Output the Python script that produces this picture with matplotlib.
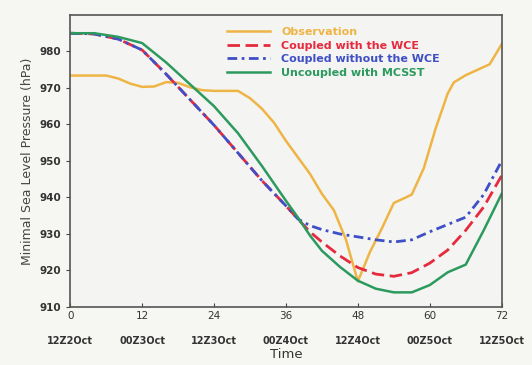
import matplotlib.pyplot as plt

# hours since 12Z 2 Oct
obs_hours = [0, 6, 8, 10, 12, 14, 16, 18, 20, 22, 24, 28, 30, 32, 34, 36, 38, 40, 42, 44, 46, 48,
             50, 52, 54, 56, 57, 59, 61, 63, 64, 66, 68, 70, 72]
obs_p = [973.4, 973.4, 972.6, 971.2, 970.3, 970.4, 971.6, 971.4, 970.2, 969.4, 969.2, 969.2, 967.2,
         964.3, 960.5, 955.5, 951.0, 946.5, 941.0, 936.5, 928.5, 917.0,
         925.0, 931.5, 938.5, 940.0, 940.8, 948.0, 959.0, 968.5, 971.5, 973.5, 975.0, 976.5, 982.0]

model_hours = [0, 4, 8, 12, 16, 20, 24, 28, 32, 36, 38, 40, 42, 45, 48, 51, 54, 57, 60, 63, 66, 69, 72]
wce_p = [985.0, 984.8, 983.4, 980.4, 973.8, 966.8, 959.8, 952.2, 944.6, 937.7, 934.1, 930.6, 927.8,
         924.0, 920.8, 919.0, 918.4, 919.4, 922.0, 925.6, 931.0, 937.4, 946.0]
nowce_p = [985.0, 984.8, 983.4, 980.4, 973.8, 966.8, 959.8, 952.2, 944.6, 937.7, 934.1, 932.3, 931.2,
           930.0, 929.2, 928.4, 927.8, 928.4, 930.6, 932.6, 934.6, 940.8, 950.0]
mcsst_p = [985.0, 985.0, 984.0, 982.3, 977.0, 971.0, 965.0, 957.6, 948.6, 939.1, 934.5, 929.6, 925.4,
           921.0, 917.2, 915.0, 914.0, 914.0, 916.0, 919.5, 921.6, 931.0, 941.0]

tick_hours = [0, 12, 24, 36, 48, 60, 72]
tick_dates = ['12Z2Oct', '00Z3Oct', '12Z3Oct', '00Z4Oct', '12Z4Oct', '00Z5Oct', '12Z5Oct']
y_ticks = [910, 920, 930, 940, 950, 960, 970, 980]

c_obs = '#eeb445'
c_wce = '#e62a3e'
c_nowce = '#3f4fc6'
c_mcsst = '#2c9a5e'

fig = plt.figure(figsize=(5.32, 3.65), dpi=100)
fig.patch.set_facecolor('#f6f6f3')
ax = fig.add_axes([0.132, 0.159, 0.811, 0.8])
ax.set_facecolor('#f4f5f2')

ax.plot(obs_hours, obs_p, color=c_obs, lw=1.8, label='Observation')
ax.plot(model_hours, wce_p, color=c_wce, lw=2.0, dashes=(4.5, 2), label='Coupled with the WCE')
ax.plot(model_hours, nowce_p, color=c_nowce, lw=2.0, dashes=(3.5, 1.6, 1, 1.6), label='Coupled without the WCE')
ax.plot(model_hours, mcsst_p, color=c_mcsst, lw=1.8, label='Uncoupled with MCSST')

ax.set_xlim(0, 72)
ax.set_ylim(910, 990)
ax.set_yticks(y_ticks)
ax.set_xticks(tick_hours)
ax.set_xticklabels([str(h) for h in tick_hours], fontsize=7.5, color='#333333')
ax.tick_params(axis='y', labelsize=7.5, labelcolor='#333333', length=3, color='#444444')
ax.tick_params(axis='x', direction='in', length=3, pad=3, color='#444444')
for lbl in ax.get_yticklabels():
    lbl.set_fontweight('bold')

for h, d in zip(tick_hours, tick_dates):
    ax.text(h, -0.1, d, transform=ax.get_xaxis_transform(), ha='center', va='top',
            fontsize=7, fontweight='bold', color='#333333')

for s in ax.spines.values():
    s.set_color('#555555')
    s.set_linewidth(1.2)

ax.set_xlabel('Time', fontsize=9.5, labelpad=19, color='#333333')
ax.set_ylabel('Minimal Sea Level Pressure (hPa)', fontsize=9, color='#444444')

leg = ax.legend(loc='upper left', bbox_to_anchor=(0.363, 0.958), frameon=False, fontsize=8,
                handlelength=3.9, handletextpad=1.0, labelspacing=0.32, borderaxespad=0, borderpad=0)
for txt, col in zip(leg.get_texts(), [c_obs, c_wce, c_nowce, c_mcsst]):
    txt.set_color(col)
    txt.set_fontweight('bold')

fig.savefig('out.png', dpi=100, facecolor=fig.get_facecolor())
